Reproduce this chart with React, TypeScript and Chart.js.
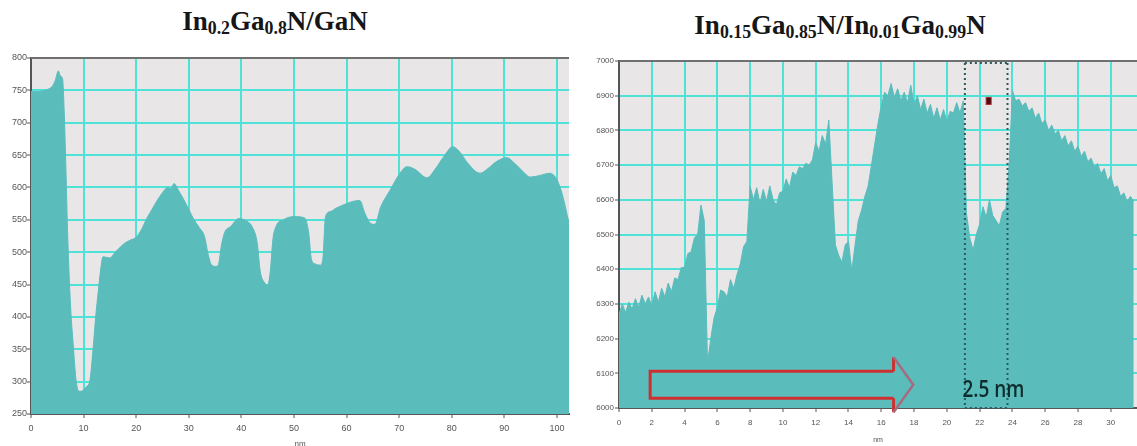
import React, { useEffect, useRef } from 'react';
import { Chart, registerables } from 'chart.js';

Chart.register(...registerables);

// ---- In0.2Ga0.8N/GaN intensity profile (position in nm, intensity) ----
const leftPos = [
  0, 1, 2, 3, 4, 4.6, 5.2, 5.6, 6.0, 6.3, 6.6, 7.0, 7.5, 8.0, 8.6, 9.2, 9.8, 10.5, 11.2, 11.8,
  12.3, 12.8, 13.2, 13.7, 15, 16, 17, 18, 19, 20, 21, 22, 23, 24, 25, 26, 26.6, 27.2, 28, 29,
  30, 31, 32, 33, 33.6, 34.2, 35, 35.6, 36.2, 36.8, 38, 39.5, 41, 42, 43, 43.6, 44.5, 45, 45.5, 46,
  46.6, 48, 50, 52, 52.8, 53.3, 54, 55, 55.5, 56, 57, 58, 60, 61, 62.5, 63.5, 64.5, 65.4, 66.5, 68.3,
  70, 71.5, 73, 75.3, 77, 78.5, 80.2, 81.5, 83, 85.4, 87, 88.5, 90.5, 92, 93.5, 94.9, 96.5, 98.7, 100, 101,
  102.3,
];
const leftVal = [
  748, 748, 749, 751, 756, 765, 780, 772, 768, 720, 640, 520, 420, 360, 300, 285, 286, 292, 302, 350,
  400, 440, 470, 493, 491, 500, 508, 515, 519, 523, 535, 552, 566, 580, 592, 600, 598, 606, 596, 582,
  566, 550, 538, 524, 500, 482, 478, 480, 510, 530, 540, 552, 548, 540, 515, 470, 452, 449, 470, 520,
  540, 550, 555, 553, 530, 490, 482, 480, 490, 555, 563, 568, 575, 578, 580, 560, 545, 543, 570, 596,
  620, 632, 628, 615, 630, 648, 663, 655, 638, 622, 630, 640, 646, 637, 625, 616, 618, 622, 612, 590,
  545,
];
const leftXTicks = [0, 10, 20, 30, 40, 50, 60, 70, 80, 90, 100];
const leftYTicks = [250, 300, 350, 400, 450, 500, 550, 600, 650, 700, 750, 800];

// ---- In0.15Ga0.85N/In0.01Ga0.99N intensity profile, sampled every 0.2 nm ----
const rightStep = 0.2;
const rightVal = [
  6270, 6300, 6275, 6305, 6285, 6315, 6290, 6325, 6300, 6320,
  6295, 6335, 6305, 6345, 6320, 6360, 6335, 6375, 6370, 6405,
  6405, 6445, 6450, 6490, 6500, 6585, 6540, 6130, 6200, 6260,
  6290, 6340, 6335, 6320, 6370, 6345, 6385, 6415, 6465, 6480,
  6640, 6600, 6635, 6590, 6630, 6595, 6640, 6600, 6585, 6620,
  6625, 6660, 6635, 6680, 6670, 6695, 6690, 6705, 6700, 6715,
  6765, 6740, 6785, 6760, 6830, 6650, 6470, 6440, 6420, 6470,
  6480, 6395, 6470, 6540, 6570, 6610, 6640, 6700, 6760, 6820,
  6870, 6910, 6900, 6935, 6895, 6920, 6885, 6910, 6880, 6930,
  6875, 6900, 6860, 6890, 6850, 6875, 6835, 6865, 6830, 6860,
  6825, 6855, 6850, 6880, 6850, 6885, 6560, 6490, 6455, 6500,
  6530, 6580, 6550, 6600, 6555, 6540, 6525, 6565, 6575, 6700,
  6915, 6885, 6890, 6870, 6880, 6855, 6865, 6835, 6850, 6820,
  6830, 6800, 6815, 6790, 6800, 6770, 6785, 6755, 6770, 6740,
  6755, 6725, 6740, 6710, 6720, 6695, 6705, 6675, 6690, 6655,
  6670, 6635, 6640, 6610, 6620, 6595, 6610, 6595,
];
const rightXTicks = [0, 2, 4, 6, 8, 10, 12, 14, 16, 18, 20, 22, 24, 26, 28, 30];
const rightYTicks = [6000, 6100, 6200, 6300, 6400, 6500, 6600, 6700, 6800, 6900, 7000];

// Annotations on the right profile, in data units (nm, intensity)
const wellBand = { x0: 21.1, x1: 23.7 };
const wellMarker = { x: 22.55, y: 6885 };
const growthArrow = { x0: 1.9, x1: 16.75, xTip: 17.95, yTop: 6106, yBottom: 6028, headTop: 6146, headBottom: 5988 };
const wellLabel = { text: '2.5 nm', x: 20.95, y: 6031 };

const FILL = '#5bbcbc';
const PLOT_BG = '#e9e6e8';
const GRID = '#4fe3d8';
const AXIS = '#555555';
const TICK_TEXT = '#555555';

const plotFrame = {
  id: 'plotFrame',
  beforeDraw(chart: any) {
    const { ctx, chartArea: a } = chart;
    ctx.save();
    ctx.fillStyle = PLOT_BG;
    ctx.fillRect(a.left, a.top, a.right - a.left, a.bottom - a.top);
    ctx.restore();
  },
  afterDraw(chart: any) {
    const { ctx, chartArea: a } = chart;
    ctx.save();
    ctx.strokeStyle = '#707070';
    ctx.lineWidth = 2;
    ctx.beginPath();
    ctx.moveTo(a.left, a.top);
    ctx.lineTo(a.right, a.top);
    ctx.stroke();
    ctx.restore();
  },
};

const wellAnnotations = {
  id: 'wellAnnotations',
  afterDatasetsDraw(chart: any) {
    const { ctx, chartArea: a, scales } = chart;
    const px = (v: number) => scales.x.getPixelForValue(v);
    const py = (v: number) => scales.y.getPixelForValue(v);
    ctx.save();

    // dotted frame around the well
    const l = px(wellBand.x0);
    const r = px(wellBand.x1);
    ctx.strokeStyle = '#2c5a5c';
    ctx.lineWidth = 2;
    ctx.setLineDash([2, 3]);
    ctx.beginPath();
    ctx.moveTo(l, a.top + 2);
    ctx.lineTo(l, a.bottom);
    ctx.moveTo(r, a.top + 2);
    ctx.lineTo(r, a.bottom);
    ctx.moveTo(l, a.top + 2);
    ctx.lineTo(r, a.top + 2);
    ctx.moveTo(l, a.bottom);
    ctx.lineTo(r, a.bottom);
    ctx.stroke();
    ctx.setLineDash([]);

    // small marker inside the well
    const mx = px(wellMarker.x);
    const my = py(wellMarker.y);
    ctx.fillStyle = '#4a0c10';
    ctx.strokeStyle = '#b02a2a';
    ctx.lineWidth = 1;
    ctx.fillRect(mx - 2.5, my - 3.5, 5, 7);
    ctx.strokeRect(mx - 2.5, my - 3.5, 5, 7);

    // growth-direction arrow
    const g = growthArrow;
    const x0 = px(g.x0), x1 = px(g.x1), xt = px(g.xTip);
    const yt = py(g.yTop), yb = py(g.yBottom);
    const ht = py(g.headTop), hb = py(g.headBottom);
    const ym = (yt + yb) / 2;
    ctx.lineWidth = 3;
    ctx.lineJoin = 'miter';
    ctx.strokeStyle = '#cc3030';
    ctx.beginPath();
    ctx.moveTo(x1, yt);
    ctx.lineTo(x0, yt);
    ctx.lineTo(x0, yb);
    ctx.lineTo(x1, yb);
    ctx.moveTo(x1, yt);
    ctx.lineTo(x1, ht);
    ctx.moveTo(x1, yb);
    ctx.lineTo(x1, hb);
    ctx.stroke();
    ctx.strokeStyle = '#a86a7e';
    ctx.lineWidth = 2.5;
    ctx.beginPath();
    ctx.moveTo(x1, ht);
    ctx.lineTo(xt, ym);
    ctx.lineTo(x1, hb);
    ctx.stroke();

    // well width label
    ctx.fillStyle = '#0f2c2c';
    ctx.font = '600 19px "Open Sans"';
    ctx.textAlign = 'left';
    ctx.textBaseline = 'alphabetic';
    ctx.translate(px(wellLabel.x), py(wellLabel.y));
    ctx.scale(1, 1.2);
    ctx.fillText(wellLabel.text, 0, 0);
    ctx.restore();
  },
};

function makeOptions(cfg: {
  xMin: number; xMax: number; yMin: number; yMax: number;
  xTicks: number[]; yTicks: number[];
  yWidth: number; xHeight: number; padTop: number; padRight: number;
  tickFont: number; titleFont: number; titlePad: number; xLabelPad: number; yLabelPad: number;
}) {
  return {
    responsive: false,
    animation: false as const,
    devicePixelRatio: 1,
    layout: { padding: { top: cfg.padTop, right: cfg.padRight, left: 0, bottom: 0 } },
    plugins: { legend: { display: false }, tooltip: { enabled: false }, title: { display: false } },
    elements: { point: { radius: 0 } },
    scales: {
      x: {
        type: 'linear' as const,
        min: cfg.xMin,
        max: cfg.xMax,
        afterBuildTicks: (s: any) => { s.ticks = cfg.xTicks.map((v) => ({ value: v })); },
        afterFit: (s: any) => { s.height = cfg.xHeight; },
        ticks: {
          callback: (v: any) => String(v),
          color: TICK_TEXT,
          font: { family: '"Liberation Sans", Arial, sans-serif', size: cfg.tickFont },
          padding: cfg.xLabelPad,
          maxRotation: 0,
          autoSkip: false,
        },
        grid: { color: GRID, lineWidth: 2, tickColor: AXIS, tickLength: 4, tickWidth: 1 },
        border: { display: true, color: AXIS, width: 2 },
        title: {
          display: true,
          text: 'nm',
          color: TICK_TEXT,
          font: { family: '"Liberation Sans", Arial, sans-serif', size: cfg.titleFont },
          padding: { top: 0, bottom: cfg.titlePad },
        },
      },
      y: {
        type: 'linear' as const,
        min: cfg.yMin,
        max: cfg.yMax,
        afterBuildTicks: (s: any) => { s.ticks = cfg.yTicks.map((v) => ({ value: v })); },
        afterFit: (s: any) => { s.width = cfg.yWidth; },
        ticks: {
          callback: (v: any) => String(v),
          color: TICK_TEXT,
          font: { family: '"Liberation Sans", Arial, sans-serif', size: cfg.tickFont },
          padding: cfg.yLabelPad,
        },
        grid: { color: GRID, lineWidth: 2, tickColor: AXIS, tickLength: 4, tickWidth: 1 },
        border: { display: true, color: AXIS, width: 2 },
      },
    },
  };
}

function ProfileChart(props: {
  left: number; top: number; width: number; height: number;
  build: (canvas: HTMLCanvasElement) => Chart;
}) {
  const ref = useRef<HTMLCanvasElement | null>(null);
  useEffect(() => {
    if (!ref.current) return;
    const chart = props.build(ref.current);
    return () => chart.destroy();
  }, []);
  return (
    <canvas
      ref={ref}
      width={props.width}
      height={props.height}
      style={{ position: 'absolute', left: props.left, top: props.top, width: props.width, height: props.height }}
    />
  );
}

const buildLeft = (canvas: HTMLCanvasElement) =>
  new Chart(canvas, {
    type: 'line',
    data: {
      datasets: [
        {
          data: leftPos.map((x, i) => ({ x, y: leftVal[i] })),
          borderColor: FILL,
          borderWidth: 1,
          backgroundColor: FILL,
          fill: 'start',
          cubicInterpolationMode: 'monotone',
          pointRadius: 0,
        },
      ],
    },
    options: makeOptions({
      xMin: 0, xMax: 102.3, yMin: 250, yMax: 800,
      xTicks: leftXTicks, yTicks: leftYTicks,
      yWidth: 31, xHeight: 36, padTop: 8, padRight: 6,
      tickFont: 9, titleFont: 8, titlePad: 1, xLabelPad: 5, yLabelPad: 0,
    }) as any,
    plugins: [plotFrame],
  });

const buildRight = (canvas: HTMLCanvasElement) =>
  new Chart(canvas, {
    type: 'line',
    data: {
      datasets: [
        {
          data: rightVal.map((y, i) => ({ x: Math.round(i * rightStep * 10) / 10, y })),
          borderColor: FILL,
          borderWidth: 1,
          backgroundColor: FILL,
          fill: 'start',
          tension: 0,
          pointRadius: 0,
        },
      ],
    },
    options: makeOptions({
      xMin: 0, xMax: 31.6, yMin: 6000, yMax: 7000,
      xTicks: rightXTicks, yTicks: rightYTicks,
      yWidth: 39, xHeight: 38, padTop: 11, padRight: 0,
      tickFont: 8, titleFont: 7, titlePad: 2, xLabelPad: 6, yLabelPad: 1,
    }) as any,
    plugins: [plotFrame, wellAnnotations],
  });

const titleStyle: React.CSSProperties = {
  position: 'absolute',
  width: 420,
  textAlign: 'center',
  font: 'bold 27px "Liberation Serif", "Times New Roman", serif',
  lineHeight: '27px',
  color: '#161616',
  whiteSpace: 'nowrap',
};
const subStyle: React.CSSProperties = { fontSize: '0.66em', verticalAlign: '-4px', lineHeight: 0 };

export default function App() {
  return (
    <div
      style={{
        position: 'absolute', left: 0, top: 0, width: 1137, height: 446,
        overflow: 'hidden', background: '#ffffff',
      }}
    >
      <div style={{ ...titleStyle, left: 65, top: 8 }}>
        In<sub style={subStyle}>0.2</sub>Ga<sub style={subStyle}>0.8</sub>N/GaN
      </div>
      <div style={{ ...titleStyle, left: 630, top: 12 }}>
        In<sub style={subStyle}>0.15</sub>Ga<sub style={subStyle}>0.85</sub>N/In<sub style={subStyle}>0.01</sub>Ga<sub style={subStyle}>0.99</sub>N
      </div>
      <ProfileChart left={0} top={50} width={575} height={400} build={buildLeft} />
      <ProfileChart left={580} top={50} width={557} height={396} build={buildRight} />
    </div>
  );
}
